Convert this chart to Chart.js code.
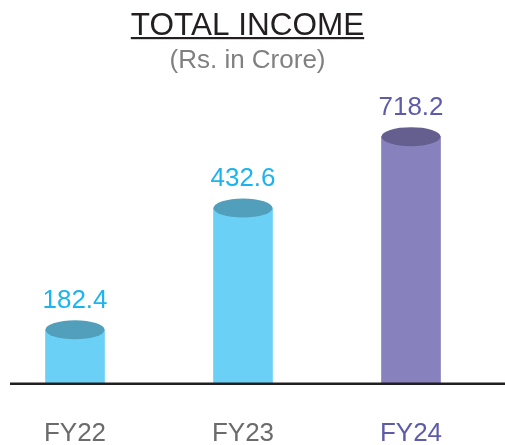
<!DOCTYPE html>
<html>
<head>
<meta charset="utf-8">
<script src="https://cdn.jsdelivr.net/npm/chart.js@4/dist/chart.umd.min.js"></script>
<style>
  html, body { margin: 0; padding: 0; background: #ffffff; overflow: hidden; }
  #wrap { width: 505px; height: 445px; position: relative; overflow: hidden; }
  #c { position: absolute; left: -9px; top: 0; }
</style>
</head>
<body>
<div id="wrap"><canvas id="c" width="514" height="445"></canvas></div>
<script>
const categories = ["FY22", "FY23", "FY24"];
const incomeValues = [182.4, 432.6, 718.2];
const valueLabels = ["182.4", "432.6", "718.2"];
const titleText = "TOTAL INCOME";
const subtitleText = "(Rs. in Crore)";

const bodyColors = ["#6BD0F5", "#6BD0F5", "#8781BD"];
const topColors = ["#529FBC", "#529FBC", "#655F8F"];
const labelColors = ["#1CB4EE", "#1CB4EE", "#5E5BA9"];
const tickColors = ["#6B6B6B", "#6B6B6B", "#5E5BA9"];
const FONT = "'Liberation Sans', Arial, sans-serif";
const OFFSET_X = 9; // canvas is shifted left by this many px

const cylinderPlugin = {
  id: 'cylinder',
  afterDatasetsDraw(chart) {
    const ctx = chart.ctx;
    const meta = chart.getDatasetMeta(0);
    ctx.save();
    meta.data.forEach((bar, i) => {
      const rx = bar.width / 2;
      const ry = 9.5;
      ctx.beginPath();
      ctx.ellipse(bar.x, bar.y, rx, ry, 0, 0, Math.PI * 2);
      ctx.fillStyle = topColors[i];
      ctx.fill();
      ctx.font = "26px " + FONT;
      ctx.fillStyle = labelColors[i];
      ctx.textAlign = 'center';
      ctx.textBaseline = 'alphabetic';
      ctx.fillText(valueLabels[i], bar.x, bar.y - 22);
    });
    ctx.restore();
  },
  afterDraw(chart) {
    const ctx = chart.ctx;
    ctx.save();
    ctx.beginPath();
    ctx.moveTo(10 + OFFSET_X, chart.chartArea.bottom + 0.8);
    ctx.lineTo(505 + OFFSET_X, chart.chartArea.bottom + 0.8);
    ctx.lineWidth = 2.4;
    ctx.strokeStyle = "#231F20";
    ctx.stroke();
    const cx = 247.5 + OFFSET_X;
    ctx.textAlign = 'center';
    ctx.textBaseline = 'alphabetic';
    ctx.font = "31.5px " + FONT;
    ctx.fillStyle = "#231F20";
    ctx.fillText(titleText, cx, 34.5);
    const w = ctx.measureText(titleText).width;
    ctx.fillRect(cx - w / 2, 37, w, 2.2);
    ctx.font = "26px " + FONT;
    ctx.fillStyle = "#808080";
    ctx.fillText(subtitleText, cx, 68);
    ctx.restore();
  }
};

new Chart(document.getElementById('c'), {
  type: 'bar',
  data: {
    labels: categories,
    datasets: [{
      data: incomeValues,
      backgroundColor: bodyColors,
      borderWidth: 0,
      barThickness: 59
    }]
  },
  options: {
    responsive: false,
    animation: false,
    events: [],
    layout: { padding: { top: 90, left: 0, right: 10, bottom: 0 } },
    plugins: { legend: { display: false }, tooltip: { enabled: false } },
    scales: {
      x: {
        grid: { display: false, drawTicks: false },
        border: { display: false },
        ticks: {
          padding: 35,
          font: { family: FONT, size: 26, lineHeight: 1.2 },
          color: (c) => tickColors[c.index]
        },
        afterFit: (scale) => { scale.height = 62; }
      },
      y: {
        type: 'logarithmic',
        display: false,
        min: 125,
        max: 1000
      }
    }
  },
  plugins: [cylinderPlugin]
});
</script>
</body>
</html>
